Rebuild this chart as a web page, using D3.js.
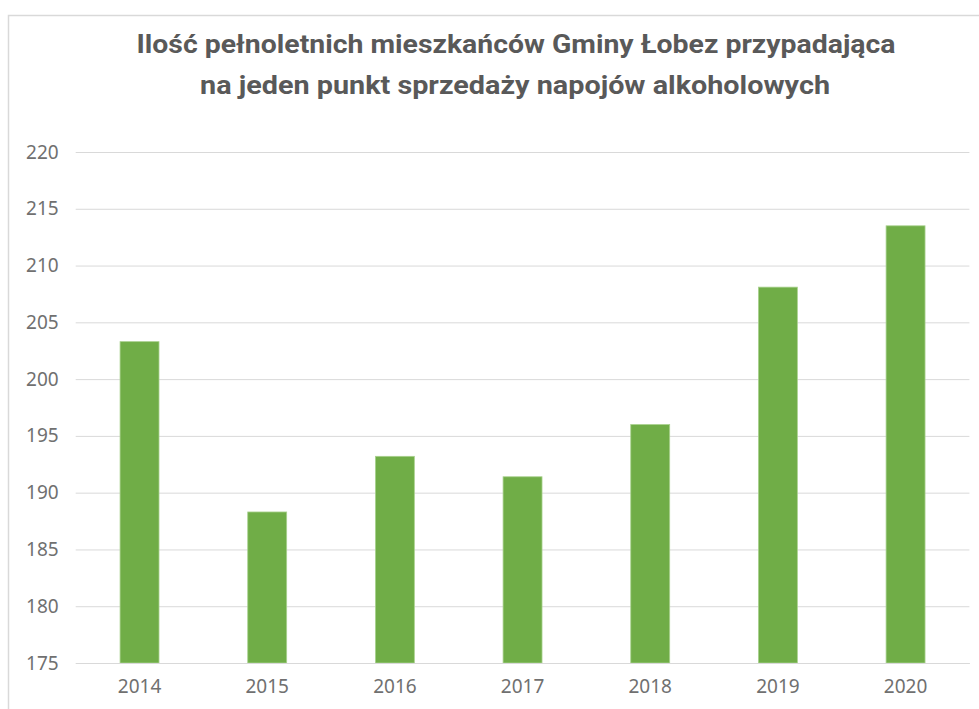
<!DOCTYPE html>
<html><head><meta charset="utf-8">
<script src="https://cdn.jsdelivr.net/npm/d3@7"></script>
<style>html,body{margin:0;padding:0;background:#fff;}svg{display:block;}</style>
</head><body>
<svg id="c" width="979" height="709"></svg>
<script>
const years = ["2014","2015","2016","2017","2018","2019","2020"];
const values = [203.3, 188.3, 193.2, 191.4, 196.0, 208.1, 213.5];
const yTicks = [175,180,185,190,195,200,205,210,215,220];
const titleLines = ["Ilość pełnoletnich mieszkańców Gminy Łobez przypadająca","na jeden punkt sprzedaży napojów alkoholowych"];

const svg = d3.select("#c");
svg.append("rect").attr("x",8.5).attr("y",15.5).attr("width",1000).attr("height",1000)
  .attr("fill","#fff").attr("stroke","#d9d9d9").attr("stroke-width",1.5);

const m = {left:75.7, right:969.4, top:152, bottom:663};
const x = d3.scaleBand().domain(years).range([m.left,m.right]).paddingInner(0.695).paddingOuter(0.3475);
const y = d3.scaleLinear().domain([175,220]).range([m.bottom,m.top]);

const gy = svg.append("g").attr("transform",`translate(${m.left},0)`)
  .call(d3.axisLeft(y).tickValues(yTicks).tickSize(-(m.right-m.left)).tickPadding(17).tickFormat(d3.format("d")));
gy.select(".domain").remove();
gy.selectAll(".tick line").attr("stroke","#d9d9d9").attr("stroke-width",1);
gy.selectAll(".tick text").attr("fill","#707070").style("font-family","'Noto Sans',sans-serif").style("font-size","19px");

svg.append("g").selectAll("rect").data(years).join("rect")
  .attr("x",d=>x(d)).attr("width",x.bandwidth())
  .attr("y",(d,i)=>y(values[i])).attr("height",(d,i)=>y(175)-y(values[i]))
  .attr("fill","#70ad47").attr("stroke","#a9d18e").attr("stroke-width",0.8);

const gx = svg.append("g").attr("transform",`translate(0,${m.bottom})`)
  .call(d3.axisBottom(x).tickSize(0).tickPadding(17));
gx.select(".domain").attr("stroke","#d9d9d9").attr("stroke-width",1);
gx.selectAll(".tick text").attr("fill","#707070").style("font-family","'Noto Sans',sans-serif").style("font-size","19px");

const tl = [{t:titleLines[0], y:53, w:759, cx:516},{t:titleLines[1], y:94, w:630, cx:515}];
svg.selectAll("text.title").data(tl).join("text").attr("class","title")
  .attr("x",d=>d.cx).attr("y",d=>d.y).attr("text-anchor","middle")
  .attr("fill","#595959").style("font-family","'Roboto',sans-serif").style("font-weight","bold").style("font-size","25px")
  .attr("textLength",d=>d.w).attr("lengthAdjust","spacingAndGlyphs")
  .text(d=>d.t);
</script>
</body></html>
